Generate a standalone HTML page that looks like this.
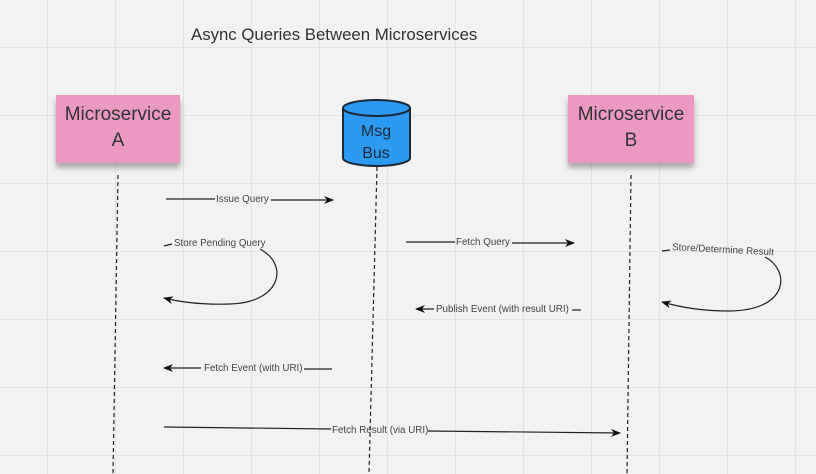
<!DOCTYPE html>
<html><head><meta charset="utf-8"><style>
html,body{margin:0;padding:0;background:#f2f2f2;}
svg{display:block;font-family:"Liberation Sans",sans-serif;}
</style></head><body>
<svg width="816" height="474" viewBox="0 0 816 474" xmlns="http://www.w3.org/2000/svg">
<defs>
<marker id="ah" markerWidth="10" markerHeight="8" refX="9" refY="4" orient="auto" markerUnits="userSpaceOnUse">
<path d="M0,0 L10,4 L0,8 L3,4 Z" fill="#111"/>
</marker>
<filter id="sh" x="-20%" y="-20%" width="140%" height="160%"><feDropShadow dx="0" dy="5" stdDeviation="3" flood-color="#000" flood-opacity="0.3"/></filter>
</defs>
<rect width="816" height="474" fill="#f2f2f2"/>
<g stroke="#e3e3e3" stroke-width="1">
<line x1="47.5" y1="0" x2="47.5" y2="474"/><line x1="115.5" y1="0" x2="115.5" y2="474"/><line x1="183.5" y1="0" x2="183.5" y2="474"/><line x1="251.5" y1="0" x2="251.5" y2="474"/><line x1="319.5" y1="0" x2="319.5" y2="474"/><line x1="387.5" y1="0" x2="387.5" y2="474"/><line x1="455.5" y1="0" x2="455.5" y2="474"/><line x1="523.5" y1="0" x2="523.5" y2="474"/><line x1="591.5" y1="0" x2="591.5" y2="474"/><line x1="659.5" y1="0" x2="659.5" y2="474"/><line x1="727.5" y1="0" x2="727.5" y2="474"/><line x1="795.5" y1="0" x2="795.5" y2="474"/>
<line x1="0" y1="47.5" x2="816" y2="47.5"/><line x1="0" y1="115.5" x2="816" y2="115.5"/><line x1="0" y1="183.5" x2="816" y2="183.5"/><line x1="0" y1="251.5" x2="816" y2="251.5"/><line x1="0" y1="319.5" x2="816" y2="319.5"/><line x1="0" y1="387.5" x2="816" y2="387.5"/><line x1="0" y1="455.5" x2="816" y2="455.5"/>
</g>
<text x="191" y="40" font-size="16.8" fill="#333">Async Queries Between Microservices</text>

<rect x="56" y="95" width="124" height="68" fill="#eb99c0" filter="url(#sh)"/>
<text x="118" y="120" font-size="19" fill="#333" text-anchor="middle">Microservice</text>
<text x="118" y="146" font-size="19" fill="#333" text-anchor="middle">A</text>
<rect x="568" y="95" width="126" height="68" fill="#eb99c0" filter="url(#sh)"/>
<text x="631" y="120" font-size="19" fill="#333" text-anchor="middle">Microservice</text>
<text x="631" y="146" font-size="19" fill="#333" text-anchor="middle">B</text>

<path d="M343,108 L343,158 A33.5,8 0 0 0 410,158 L410,108" fill="#2b9af0" stroke="#1a2a3a" stroke-width="2"/>
<ellipse cx="376.5" cy="108" rx="33.5" ry="8" fill="#2b9af0" stroke="#1a2a3a" stroke-width="2"/>
<text x="376" y="136" font-size="16" fill="#1a2a3a" text-anchor="middle">Msg</text>
<text x="376" y="158" font-size="16" fill="#1a2a3a" text-anchor="middle">Bus</text>

<g stroke="#222" stroke-width="1.2" stroke-dasharray="4,3" fill="none">
<line x1="118" y1="175" x2="113" y2="474"/>
<line x1="377" y1="167" x2="369" y2="474"/>
<line x1="631" y1="175" x2="627" y2="474"/>
</g>

<g stroke="#222" stroke-width="1.2" fill="none">
<line x1="166" y1="199" x2="215" y2="199"/><line x1="271" y1="200" x2="333" y2="200" marker-end="url(#ah)"/>
<line x1="406" y1="242" x2="455" y2="242"/><line x1="512" y1="243" x2="574" y2="243" marker-end="url(#ah)"/>
<line x1="164" y1="246" x2="172" y2="244"/>
<path d="M260,249 C290,265 280,303 230,304 C200,305 180,302 164,298" marker-end="url(#ah)"/>
<line x1="662" y1="251" x2="670" y2="250"/>
<path d="M765,257 C790,270 790,310 730,311 C700,311 680,307 662,302" marker-end="url(#ah)"/>
<line x1="581" y1="310" x2="572" y2="310"/><line x1="434" y1="309" x2="416" y2="309" marker-end="url(#ah)"/>
<line x1="332" y1="369" x2="304" y2="369"/><line x1="201" y1="368" x2="164" y2="368" marker-end="url(#ah)"/>
<line x1="164" y1="427" x2="331" y2="429"/><line x1="428" y1="431" x2="620" y2="433" marker-end="url(#ah)"/>
</g>
<g font-size="9.8" fill="#444">
<text x="216" y="202">Issue Query</text>
<text x="174" y="246">Store Pending Query</text>
<text x="456" y="245">Fetch Query</text>
<text x="672" y="250" transform="rotate(3 672 250)">Store/Determine Result</text>
<text x="436" y="312">Publish Event (with result URI)</text>
<text x="204" y="371">Fetch Event (with URI)</text>
<text x="332" y="433">Fetch Result (via URI)</text>
</g>
</svg>
</body></html>
